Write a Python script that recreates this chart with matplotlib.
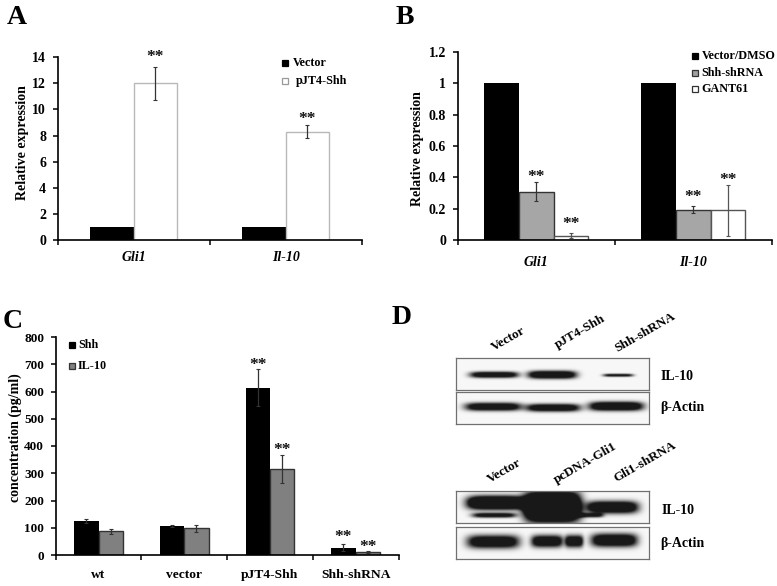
#!/usr/bin/env python3
"""Four-panel figure: qPCR bars, ELISA bars and western blots."""

import matplotlib
matplotlib.use("Agg")
import matplotlib.pyplot as plt
import numpy as np
from matplotlib.patches import Rectangle

W, H = 777, 586
FONT = "Liberation Serif"

plt.rcParams["font.family"] = [FONT, "DejaVu Sans"]
plt.rcParams["font.weight"] = "bold"

# panel A
a_genes = ["Gli1", "Il-10"]
a_vector = [1, 1]
a_shh = [12.0, 8.3]
a_shh_err = [1.27, 0.47]
a_yticks = [0, 2, 4, 6, 8, 10, 12, 14]

# panel B
b_genes = ["Gli1", "Il-10"]
b_vector = [1, 1]
b_shrna = [0.31, 0.195]
b_shrna_err = [0.06, 0.022]
b_gant = [0.03, 0.19]
b_gant_err = [0.015, 0.16]
b_yticks = [0, 0.2, 0.4, 0.6, 0.8, 1, 1.2]
b_yticklabels = ["0", "0.2", "0.4", "0.6", "0.8", "1", "1.2"]

# panel C
c_groups = ["wt", "vector", "pJT4-Shh", "Shh-shRNA"]
c_shh = [125, 106, 613, 27]
c_shh_err = [6, 5, 68, 12]
c_il10 = [87, 98, 315, 12]
c_il10_err = [10, 13, 52, 4]
c_yticks = [0, 100, 200, 300, 400, 500, 600, 700, 800]

# panel D blot frames: left, top, right, bottom in figure pixels
blot_frames = [(456, 358, 649, 390), (456, 392, 649, 424),
               (456, 491, 649, 523), (456, 527, 649, 559)]
# bands for each frame: centre x, centre y, half width, half height, darkness
blot_bands = [
    [(494, 374.5, 24, 3.0, 1.5), (552, 374.5, 24, 3.8, 1.7), (618, 375, 15, 1.5, 1.2)],
    [(493, 406.5, 28, 4.0, 1.5), (553, 407.5, 27, 3.8, 1.5), (616, 406, 27, 4.4, 1.7)],
    [(496, 502.5, 29, 6.5, 2.2), (494, 515, 22, 2.4, 1.3), (552, 506.5, 28, 14, 3.0),
     (589, 515, 14, 2.2, 1.1), (612, 507, 26, 6.0, 1.7)],
    [(493, 541.5, 26, 6.5, 1.5), (547, 541, 16, 6.0, 1.5), (574, 541, 9, 6.0, 1.5),
     (614, 540, 23, 6.5, 1.6)],
]
blot_labels = ["IL-10", "β-Actin", "IL-10", "β-Actin"]
blot_label_xy = [(677, 377), (682, 408), (678, 511), (682, 543)]
lane_labels = ["Vector", "pJT4-Shh", "Shh-shRNA", "Vector", "pcDNA-Gli1", "Gli1-shRNA"]
lane_label_xy = [(508, 339), (580, 332), (645, 332), (504, 471), (585, 463), (645, 462)]

fig = plt.figure(figsize=(W / 100, H / 100), dpi=100)
fig.patch.set_facecolor("white")


def make_axes(left, top, right, bottom):
    ax = fig.add_axes([left / W, 1 - bottom / H, (right - left) / W, (bottom - top) / H])
    ax.patch.set_alpha(0)
    for side in ("top", "right"):
        ax.spines[side].set_visible(False)
    for side in ("left", "bottom"):
        ax.spines[side].set_linewidth(1.2)
    ax.tick_params(axis="both", which="major", width=1.1, length=3.8)
    ax.tick_params(axis="y", labelsize=10, pad=4.5)
    return ax


def category_axis(ax, names, italic=True, size=10, pad=8):
    n = len(names)
    ax.set_xlim(0, n)
    ax.set_xticks(np.arange(n + 1))
    ax.set_xticklabels([])
    ax.set_xticks(np.arange(n) + 0.5, minor=True)
    ax.set_xticklabels(names, minor=True, style="italic" if italic else "normal", fontsize=size)
    ax.tick_params(axis="x", which="minor", length=0, pad=pad)


def stars(ax, x, y, offset):
    ax.annotate("**", (x, y), xytext=(0, offset), textcoords="offset pixels",
                ha="center", va="center", fontsize=12.5, color="#111111")


def error(ax, x, y, err, color="#333333"):
    ax.errorbar(x, y, yerr=err, fmt="none", ecolor=color, elinewidth=0.9, capsize=1.5, capthick=0.8)


# A
ax = make_axes(57.7, 57, 361.7, 240.3)
pos = np.arange(2) + 0.5
w = 0.285
ax.bar(pos - w / 2, a_vector, w, color="black")
ax.bar(pos + w / 2, a_shh, w, color="white", edgecolor="#b8b8b8", linewidth=1.0)
error(ax, pos + w / 2, a_shh, a_shh_err)
for x, v, e, off in zip(pos + w / 2, a_shh, a_shh_err, [10, 6]):
    stars(ax, x, v + e, off)
ax.set_ylim(0, 14)
ax.set_yticks(a_yticks)
category_axis(ax, a_genes)

# B
ax = make_axes(457.7, 51.7, 771.7, 240.3)
w = 0.222
ax.bar(pos - w, b_vector, w, color="black")
ax.bar(pos, b_shrna, w, color="#a6a6a6", edgecolor="#333333", linewidth=1.0)
ax.bar(pos + w, b_gant, w, color="white", edgecolor="#555555", linewidth=1.0)
error(ax, pos, b_shrna, b_shrna_err)
error(ax, pos + w, b_gant, b_gant_err, "#555555")
for x, v, e, off in zip(pos, b_shrna, b_shrna_err, [5, 9]):
    stars(ax, x, v + e, off)
for x, v, e, off in zip(pos + w, b_gant, b_gant_err, [9, 5]):
    stars(ax, x, v + e, off)
ax.set_ylim(0, 1.2)
ax.set_yticks(b_yticks)
ax.set_yticklabels(b_yticklabels)
category_axis(ax, b_genes, pad=11)

# C
ax = make_axes(55.7, 337, 398.5, 555)
pos = np.arange(4) + 0.5
w = 0.285
ax.bar(pos - w / 2, c_shh, w, color="black")
ax.bar(pos + w / 2, c_il10, w, color="#808080", edgecolor="#333333", linewidth=1.0)
error(ax, pos - w / 2, c_shh, c_shh_err)
error(ax, pos + w / 2, c_il10, c_il10_err)
stars(ax, pos[2] - w / 2, c_shh[2] + c_shh_err[2], 4)
stars(ax, pos[2] + w / 2, c_il10[2] + c_il10_err[2], 5)
stars(ax, pos[3] - w / 2, c_shh[3] + c_shh_err[3], 7)
stars(ax, pos[3] + w / 2, c_il10[3] + c_il10_err[3], 4)
ax.set_ylim(0, 800)
ax.set_yticks(c_yticks)
ax.tick_params(axis="y", labelsize=9.5)
category_axis(ax, c_groups, italic=False, size=9.7, pad=10)

# D blots, rendered from band profiles
for (l, t, r, b), bands in zip(blot_frames, blot_bands):
    bx = fig.add_axes([l / W, 1 - b / H, (r - l) / W, (b - t) / H])
    xx, yy = np.meshgrid(np.arange(l, r, 0.5), np.arange(t, b, 0.5))
    dark = np.zeros_like(xx)
    for cx, cy, hw, hh, d in bands:
        dark += d * np.exp(-np.abs((xx - cx) / hw) ** 5 - np.abs((yy - cy) / hh) ** 2.4)
    bx.imshow(0.97 - 0.87 * np.clip(dark, 0, 1), cmap="gray", vmin=0, vmax=1,
              extent=(l, r, b, t), aspect="auto", interpolation="bilinear")
    bx.set_xticks([])
    bx.set_yticks([])
    for s in bx.spines.values():
        s.set_color("#707070")
        s.set_linewidth(0.9)

# overlay in pixel coordinates for labels and legends
ov = fig.add_axes([0, 0, 1, 1], zorder=5)
ov.set_xlim(0, W)
ov.set_ylim(H, 0)
ov.axis("off")

for s, x, y in (("A", 7, 17), ("B", 396, 17), ("C", 3, 321), ("D", 392, 317)):
    ov.text(x, y, s, fontsize=20, ha="left", va="center")

for s, x, y in (("Relative expression", 23, 143), ("Relative expression", 417, 149),
                ("concentration (pg/ml)", 15.7, 438)):
    ov.text(x, y, s, fontsize=10, rotation=90, ha="center", va="center")


def legend_entry(x, y, text, tx, fc, ec):
    ov.add_patch(Rectangle((x, y - 3), 6, 6, facecolor=fc, edgecolor=ec, linewidth=0.9))
    ov.text(tx, y, text, fontsize=8.7, ha="left", va="center")


legend_entry(282, 63, "Vector", 292.7, "black", "black")
legend_entry(282, 81, "pJT4-Shh", 295.7, "white", "#999999")
legend_entry(692, 55.7, "Vector/DMSO", 701.7, "black", "black")
legend_entry(692, 72.7, "Shh-shRNA", 701.7, "#a0a0a0", "#333333")
legend_entry(692, 89.3, "GANT61", 701.7, "white", "#333333")
legend_entry(69, 345, "Shh", 78, "black", "black")
legend_entry(69, 365.7, "IL-10", 78, "#808080", "#333333")

for s, (x, y) in zip(blot_labels, blot_label_xy):
    ov.text(x, y, s, fontsize=10, ha="center", va="center")
for s, (x, y) in zip(lane_labels, lane_label_xy):
    ov.text(x, y, s, fontsize=9.5, rotation=30, ha="center", va="center", rotation_mode="anchor")

fig.savefig("out.png", dpi=100)
